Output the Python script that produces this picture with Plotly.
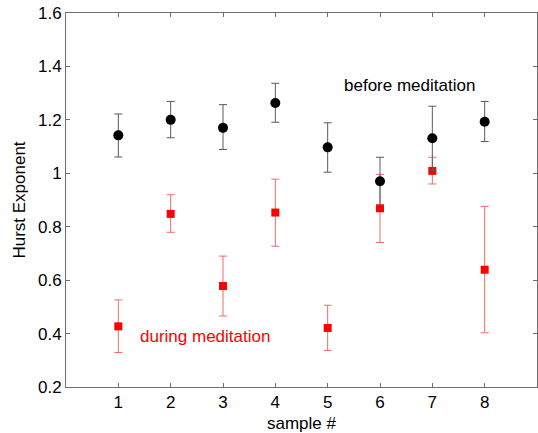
import plotly.graph_objects as go

samples = [1, 2, 3, 4, 5, 6, 7, 8]

before = [1.142, 1.200, 1.170, 1.263, 1.097, 0.970, 1.131, 1.193]
before_hi = [1.222, 1.269, 1.257, 1.337, 1.189, 1.060, 1.251, 1.269]
before_lo = [1.061, 1.133, 1.089, 1.191, 1.004, 0.880, 1.011, 1.119]

during = [0.427, 0.848, 0.578, 0.853, 0.421, 0.869, 1.009, 0.639]
during_hi = [0.526, 0.920, 0.690, 0.978, 0.506, 0.996, 1.060, 0.876]
during_lo = [0.329, 0.779, 0.466, 0.727, 0.337, 0.741, 0.960, 0.403]

y_ticks = [0.2, 0.4, 0.6, 0.8, 1.0, 1.2, 1.4, 1.6]
y_tick_labels = ["0.2", "0.4", "0.6", "0.8", "1", "1.2", "1.4", "1.6"]

font_family = "Liberation Sans, Arial, sans-serif"

fig = go.Figure()

fig.add_trace(go.Scatter(
    x=samples, y=during, mode="markers",
    marker=dict(symbol="square", size=8, color="#ff0000"),
    error_y=dict(type="data", symmetric=False,
                 array=[h - v for h, v in zip(during_hi, during)],
                 arrayminus=[v - l for v, l in zip(during, during_lo)],
                 color="#f06a6a", thickness=1, width=4),
    showlegend=False,
))

fig.add_trace(go.Scatter(
    x=samples, y=before, mode="markers",
    marker=dict(symbol="circle", size=10, color="#000000"),
    error_y=dict(type="data", symmetric=False,
                 array=[h - v for h, v in zip(before_hi, before)],
                 arrayminus=[v - l for v, l in zip(before, before_lo)],
                 color="#5a5a5a", thickness=1, width=4),
    showlegend=False,
))

fig.add_annotation(x=6.57, y=1.327, text="before meditation", showarrow=False,
                   font=dict(size=17, color="#000000", family=font_family))
fig.add_annotation(x=2.65, y=0.388, text="during meditation", showarrow=False,
                   font=dict(size=17, color="#ff0000", family=font_family))

axis_common = dict(showline=True, linecolor="#6e6e6e", linewidth=1, mirror="ticks",
                   ticks="inside", ticklen=4, tickcolor="#6e6e6e",
                   showgrid=False, zeroline=False, automargin=False,
                   tickfont=dict(size=17, color="#000000", family=font_family))

fig.update_xaxes(range=[0, 9], tickvals=samples, ticktext=[str(s) for s in samples],
                 title=dict(text="sample #", font=dict(size=17, color="#000000", family=font_family),
                            standoff=7),
                 **axis_common)
fig.update_yaxes(range=[0.2, 1.6], tickvals=y_ticks, ticktext=y_tick_labels,
                 title=dict(text="Hurst Exponent", font=dict(size=17, color="#000000", family=font_family),
                            standoff=8),
                 **axis_common)

fig.update_layout(width=538, height=433,
                  margin=dict(l=66, r=1, t=13, b=46),
                  plot_bgcolor="white", paper_bgcolor="white")

fig.write_html("out.html", config={"displayModeBar": False},
               post_script="document.body.style.margin='0px';document.body.style.overflow='hidden';")
